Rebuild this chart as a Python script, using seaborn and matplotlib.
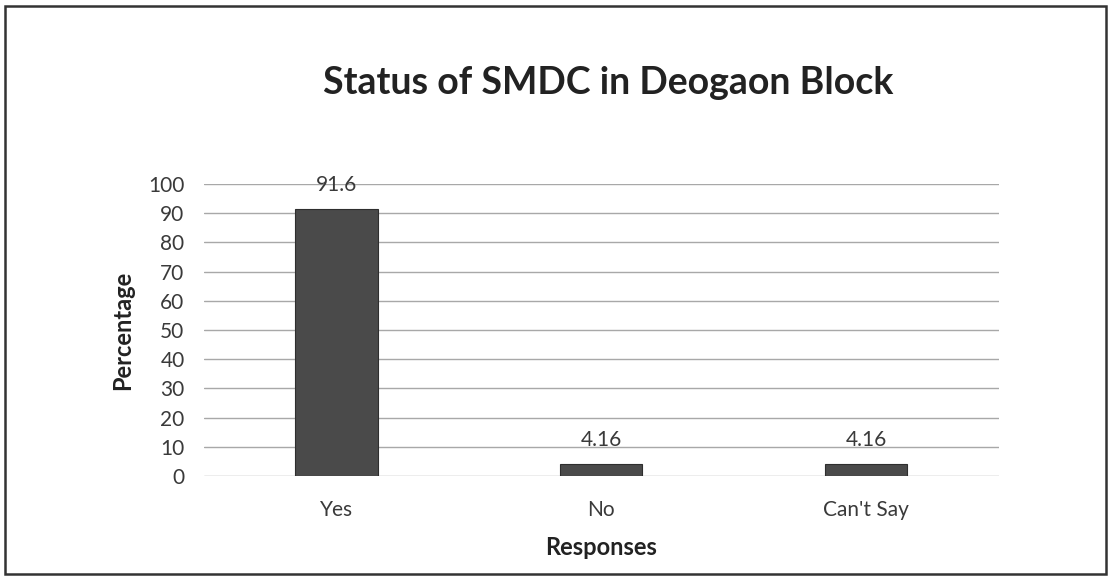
import matplotlib
matplotlib.use("Agg")
import matplotlib.pyplot as plt
import seaborn as sns
import pandas as pd
from matplotlib.patches import Rectangle

responses = ["Yes", "No", "Can't Say"]
percentages = [91.6, 4.16, 4.16]
value_labels = ["91.6", "4.16", "4.16"]
y_ticks = [0, 10, 20, 30, 40, 50, 60, 70, 80, 90, 100]

sns.set_theme(style="white")
plt.rcParams["font.family"] = ["Lato", "DejaVu Sans"]

df = pd.DataFrame({"Responses": responses, "Percentage": percentages})

fig = plt.figure(figsize=(11.11, 5.77), dpi=100)
fig.patch.set_facecolor("white")
ax = fig.add_axes([0.1836, 0.175, 0.7154, 0.506])

for y in y_ticks:
    ax.axhline(y, color="#a8a8a8", linewidth=1.0, zorder=0)

sns.barplot(data=df, x="Responses", y="Percentage", color="#4a4a4a",
            width=0.31, saturation=1, ax=ax, zorder=2,
            edgecolor="#2e2e2e", linewidth=0.8)

ax.set_ylim(0, 100)
ax.set_xlim(-0.5, len(responses) - 0.5)
ax.set_yticks(y_ticks)
ax.set_yticklabels([str(v) for v in y_ticks], fontsize=15, color="#3a3a3a")
ax.tick_params(axis="x", labelsize=15, colors="#3a3a3a", pad=17, length=0)
ax.tick_params(axis="y", pad=14, length=0)
for s in ax.spines.values():
    s.set_visible(False)

for i, (v, lab) in enumerate(zip(percentages, value_labels)):
    ax.annotate(lab, (i, v), xytext=(0, 10), textcoords="offset points",
                ha="center", va="bottom", fontsize=15, color="#3a3a3a")

ax.set_xlabel("Responses", fontsize=17, fontweight="bold", color="#222222", labelpad=12)
ax.set_ylabel("Percentage", fontsize=17, fontweight="bold", color="#222222", labelpad=10)

fig.text(0.547, 0.857, "Status of SMDC in Deogaon Block", ha="center", va="center",
         fontsize=27, fontweight="bold", color="#222222")

fig.patches.append(Rectangle((5 / 1111, 3 / 577), 1101 / 1111, 568 / 577,
                             transform=fig.transFigure, fill=False,
                             edgecolor="#333333", linewidth=1.8))

fig.savefig("out.png", dpi=100, facecolor="white")
